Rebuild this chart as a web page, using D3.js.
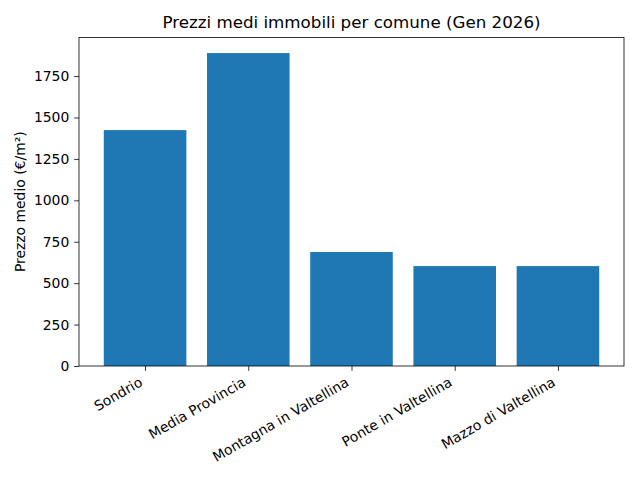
<!DOCTYPE html>
<html><head><meta charset="utf-8">
<script src="https://cdn.jsdelivr.net/npm/d3@7"></script>
<style>body{margin:0;background:#fff;} text{font-family:"DejaVu Sans",sans-serif;fill:#000;}</style>
</head><body>
<svg id="c" width="640" height="480"></svg>
<script>
const categories = ["Sondrio", "Media Provincia", "Montagna in Valtellina", "Ponte in Valtellina", "Mazzo di Valtellina"];
const values = [1424, 1889, 688, 603, 603];
const yTicks = [0, 250, 500, 750, 1000, 1250, 1500, 1750];
const title = "Prezzi medi immobili per comune (Gen 2026)";
const yLabel = "Prezzo medio (€/m²)";

const svg = d3.select("#c");
const L = 79, R = 624, T = 37.4, B = 366;
const n = categories.length;
const x = d3.scaleLinear().domain([-0.64, n - 1 + 0.64]).range([L, R]);
const ymax = d3.max(values) * 1.05;
const y = d3.scaleLinear().domain([0, ymax]).range([B, T]);

svg.append("rect").attr("x",0).attr("y",0).attr("width",640).attr("height",480).attr("fill","#fff");

svg.selectAll("rect.bar").data(values).enter().append("rect")
  .attr("class","bar")
  .attr("x",(d,i)=>x(i-0.4)).attr("width",(d,i)=>x(i+0.4)-x(i-0.4))
  .attr("y",d=>y(d)).attr("height",d=>y(0)-y(d))
  .attr("fill","#1f77b4");

// y axis
const yAxis = d3.axisLeft(y).tickValues(yTicks).tickSize(4.86).tickPadding(4.86).tickFormat(d3.format("d"));
const gy = svg.append("g").attr("transform",`translate(${L},0)`).call(yAxis);
gy.select(".domain").remove();
gy.selectAll("line").attr("stroke","#000").attr("stroke-width",0.8);
gy.selectAll("text").attr("font-size","13.9px").attr("font-family","DejaVu Sans").attr("fill","#000");

// x axis
const xAxis = d3.axisBottom(x).tickValues(d3.range(n)).tickSize(4.86).tickFormat("");
const gx = svg.append("g").attr("transform",`translate(0,${B})`).call(xAxis);
gx.select(".domain").remove();
gx.selectAll("line").attr("stroke","#000").attr("stroke-width",0.8);

svg.selectAll("text.xl").data(categories).enter().append("text")
  .attr("class","xl")
  .attr("transform",(d,i)=>`translate(${x(i)-1.5},${B+19}) rotate(-30)`)
  .attr("text-anchor","end")
  .attr("font-size","13.9px")
  .text(d=>d);

// frame
svg.append("rect").attr("x",L).attr("y",T).attr("width",R-L).attr("height",B-T)
  .attr("fill","none").attr("stroke","#000").attr("stroke-width",0.8);

svg.append("text").attr("x",(L+R)/2).attr("y",T-9).attr("text-anchor","middle")
  .attr("font-size","16.7px").text(title);

svg.append("text").attr("transform",`translate(25,${(T+B)/2}) rotate(-90)`)
  .attr("text-anchor","middle").attr("font-size","13.9px").text(yLabel);
</script>
</body></html>
